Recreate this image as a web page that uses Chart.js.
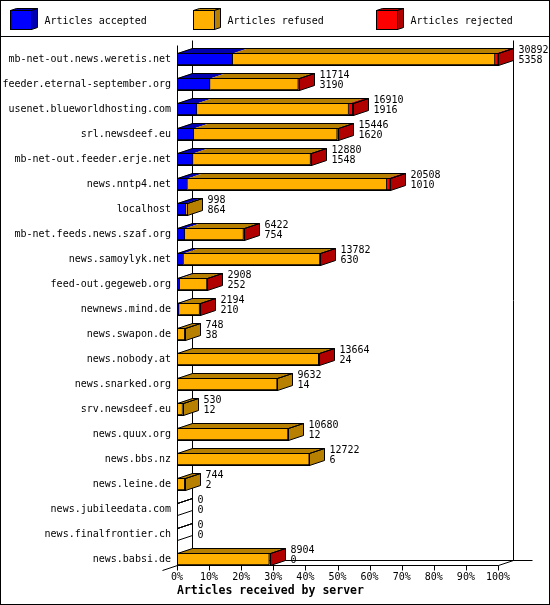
<!DOCTYPE html>
<html lang="en">
<head>
<meta charset="UTF-8">
<title>Articles received by server</title>
<style>
body { margin:0; padding:0; background:#fff; }
#chart { display:block; }
</style>
</head>
<body>
<canvas id="chart" width="550" height="605"></canvas>

<script src="https://cdn.jsdelivr.net/npm/chart.js"></script>
<script>
// servers, top to bottom
const servers = [
  'mb-net-out.news.weretis.net', 'feeder.eternal-september.org', 'usenet.blueworldhosting.com',
  'srl.newsdeef.eu', 'mb-net-out.feeder.erje.net', 'news.nntp4.net', 'localhost',
  'mb-net.feeds.news.szaf.org', 'news.samoylyk.net', 'feed-out.gegeweb.org', 'newnews.mind.de',
  'news.swapon.de', 'news.nobody.at', 'news.snarked.org', 'srv.newsdeef.eu', 'news.quux.org',
  'news.bbs.nz', 'news.leine.de', 'news.jubileedata.com', 'news.finalfrontier.ch', 'news.babsi.de'
];
// printed totals (articles offered) and accepted counts
const offered  = [30892, 11714, 16910, 15446, 12880, 20508, 998, 6422, 13782, 2908, 2194, 748, 13664, 9632, 530, 10680, 12722, 744, 0, 0, 8904];
const accepted = [5358, 3190, 1916, 1620, 1548, 1010, 864, 754, 630, 252, 210, 38, 24, 14, 12, 12, 6, 2, 0, 0, 0];
const refused  = [25234, 8484, 14594, 13796, 11302, 19178, 134, 5640, 13122, 2630, 1960, 710, 13610, 9618, 518, 10668, 12716, 742, 0, 0, 8880];
const rejected = [300, 40, 400, 30, 30, 320, 0, 28, 30, 26, 24, 0, 30, 0, 0, 0, 0, 0, 0, 0, 24];
const tickPercents = [0, 10, 20, 30, 40, 50, 60, 70, 80, 90, 100];

const FONT = 'DejaVu Sans Mono';
const DX = 15, DY = 5;
const maxOffered = Math.max(...offered);

const seriesNames = ['Articles accepted', 'Articles refused', 'Articles rejected'];
const frontColors = ['#0000ff', '#ffb000', '#ff0000'];
const darkColors  = ['#0000b0', '#b88000', '#b00000'];

function line(ctx, x1, y1, x2, y2) {
  ctx.beginPath(); ctx.moveTo(x1, y1); ctx.lineTo(x2, y2); ctx.stroke();
}
function poly(ctx, pts) {
  ctx.beginPath();
  ctx.moveTo(pts[0][0], pts[0][1]);
  for (let i = 1; i < pts.length; i++) ctx.lineTo(pts[i][0], pts[i][1]);
  ctx.closePath();
}

const frame3d = {
  id: 'frame3d',
  beforeDraw(chart) {
    const ctx = chart.ctx;
    ctx.save();
    ctx.fillStyle = '#fff';
    ctx.fillRect(0, 0, chart.width, chart.height);
    ctx.restore();
  },
  beforeDatasetsDraw(chart) {
    const ctx = chart.ctx, xs = chart.scales.x, ys = chart.scales.y;
    const x0 = Math.round(xs.getPixelForValue(0)) + 0.5;
    const x1 = Math.round(xs.getPixelForValue(maxOffered)) + 0.5;
    const top = Math.round(ys.getPixelForValue(0)) - 19 + 0.5;
    const floor = Math.round(ys.getPixelForValue(servers.length - 1)) + 6 + 0.5;
    ctx.save();
    ctx.strokeStyle = '#000';
    ctx.lineWidth = 1;
    // back walls
    line(ctx, x0 + DX, top, x0 + DX, floor - DY);
    line(ctx, x1 + DX, top, x1 + DX, floor - DY);
    line(ctx, x0, top + DY, x0, floor);
    // floor
    line(ctx, x0 + DX, floor - DY, x1 + DX + 19, floor - DY);
    line(ctx, x0, floor, x1, floor);
    line(ctx, x1, floor, x1 + DX, floor - DY);
    line(ctx, x0 + DX, floor - DY, x0 - DX, floor + DY);
    // tick marks
    xs.ticks.forEach((t, i) => {
      const x = Math.round(xs.getPixelForTick(i)) + 0.5;
      line(ctx, x, floor, x, floor + 5);
    });
    ctx.restore();
  },
  afterDatasetsDraw(chart) {
    const ctx = chart.ctx, xs = chart.scales.x;
    const x0 = xs.getPixelForValue(0);
    const metas = chart.data.datasets.map((d, k) => chart.getDatasetMeta(k));
    ctx.save();
    ctx.lineWidth = 1;
    ctx.strokeStyle = '#000';
    servers.forEach((s, i) => {
      const p0 = metas[0].data[i].getProps(['y', 'height'], true);
      const y = p0.y, top = Math.round(y - p0.height / 2) + 0.5, bottom = Math.round(y + p0.height / 2) + 0.5;
      let end = x0, last = -1;
      metas.forEach((m, k) => {
        if (!chart.data.datasets[k].data[i]) return;
        const p = m.data[i].getProps(['x', 'base'], true);
        const l = Math.min(p.x, p.base), r = Math.max(p.x, p.base);
        ctx.fillStyle = darkColors[k];
        poly(ctx, [[l, top], [r, top], [r + DX, top - DY], [l + DX, top - DY]]);
        ctx.fill();
        end = Math.max(end, r); last = k;
      });
      const bx = Math.round(x0) + 0.5, ex = Math.round(end) + 0.5;
      // side face
      poly(ctx, [[ex, top], [ex + DX, top - DY], [ex + DX, bottom - DY], [ex, bottom]]);
      if (last >= 0) { ctx.fillStyle = darkColors[last]; ctx.fill(); }
      ctx.stroke();
      // top outline and front outline
      poly(ctx, [[bx, top], [ex, top], [ex + DX, top - DY], [bx + DX, top - DY]]);
      ctx.stroke();
      ctx.strokeRect(bx, top, ex - bx, bottom - top);
      // value labels
      ctx.fillStyle = '#000';
      ctx.font = '10px "' + FONT + '"';
      ctx.textAlign = 'left';
      ctx.textBaseline = 'middle';
      ctx.fillText(String(offered[i]), ex + DX + 5, y - 9);
      ctx.fillText(String(accepted[i]), ex + DX + 5, y + 1);
    });
    ctx.restore();
  },
  afterDraw(chart) {
    const ctx = chart.ctx;
    ctx.save();
    ctx.strokeStyle = '#000';
    ctx.lineWidth = 1;
    ctx.strokeRect(0.5, 0.5, chart.width - 1, chart.height - 1);
    line(ctx, 0, 36.5, chart.width, 36.5);
    // legend with 3d boxes
    chart.data.datasets.forEach((d, k) => {
      const bx = 10.5 + k * 183, by = 10.5, w = 21, h = 19, dx = 6, dy = 2;
      ctx.fillStyle = darkColors[k];
      poly(ctx, [[bx, by], [bx + w, by], [bx + w + dx, by - dy], [bx + dx, by - dy]]);
      ctx.fill(); ctx.stroke();
      poly(ctx, [[bx + w, by], [bx + w + dx, by - dy], [bx + w + dx, by + h - dy], [bx + w, by + h]]);
      ctx.fill(); ctx.stroke();
      ctx.fillStyle = d.backgroundColor;
      ctx.fillRect(bx, by, w, h);
      ctx.strokeRect(bx, by, w, h);
      ctx.fillStyle = '#000';
      ctx.font = '10px "' + FONT + '"';
      ctx.textAlign = 'left';
      ctx.textBaseline = 'middle';
      ctx.fillText(d.label, bx + 34, 21);
    });
    ctx.restore();
  }
};

const datasets = [accepted, refused, rejected].map((vals, k) => ({
  label: seriesNames[k],
  data: vals,
  backgroundColor: frontColors[k],
  borderColor: '#000',
  borderWidth: 1,
  barThickness: 12
}));

new Chart(document.getElementById('chart'), {
  type: 'bar',
  data: { labels: servers, datasets: datasets },
  plugins: [frame3d],
  options: {
    indexAxis: 'y',
    responsive: false,
    animation: false,
    devicePixelRatio: 1,
    events: [],
    layout: { padding: { top: 46.5, right: 52, bottom: 0, left: 0 } },
    plugins: { legend: { display: false }, tooltip: { enabled: false } },
    scales: {
      x: {
        type: 'linear', stacked: true, min: 0, max: maxOffered,
        afterBuildTicks(scale) { scale.ticks = tickPercents.map(p => ({ value: p / 100 * maxOffered })); },
        afterFit(scale) { scale.height = 33.5; },
        grid: { display: false, drawTicks: false },
        border: { display: false },
        ticks: {
          autoSkip: false, maxRotation: 0, padding: 0, color: '#000',
          font: { family: FONT, size: 10 },
          callback: (v, i) => tickPercents[i] + '%'
        },
        title: {
          display: true, text: 'Articles received by server', align: 'start', color: '#000',
          font: { family: FONT, size: 11.5, weight: 'bold' },
          padding: { top: 2, bottom: 7 }
        }
      },
      y: {
        type: 'category', stacked: true, offset: true,
        afterFit(scale) { scale.width = 177; },
        grid: { display: false, drawTicks: false },
        border: { display: false },
        ticks: { autoSkip: false, padding: 6, color: '#000', font: { family: FONT, size: 10 } }
      }
    }
  }
});
</script>
</body>
</html>
